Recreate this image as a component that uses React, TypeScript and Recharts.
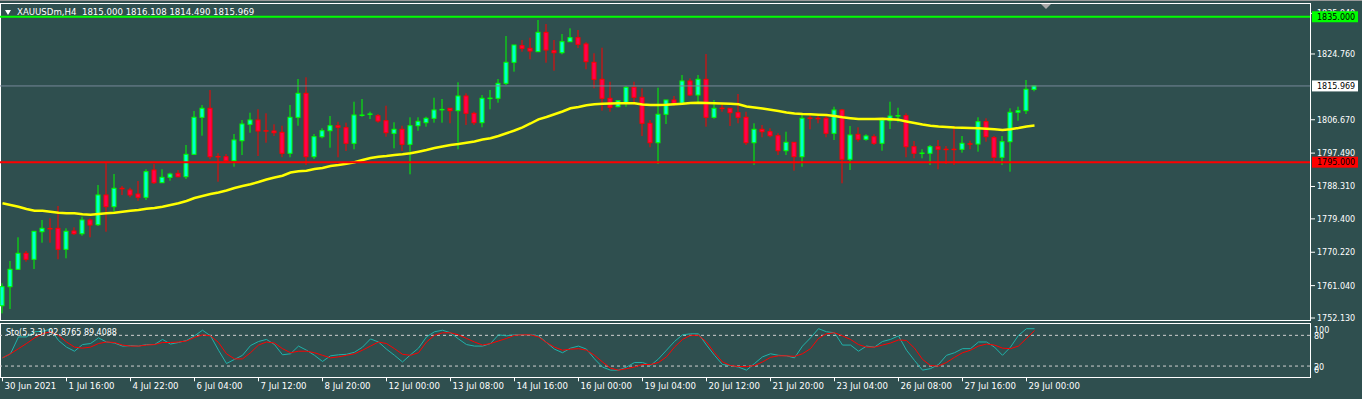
import { ComposedChart, Bar, Line, XAxis, YAxis, ReferenceLine } from 'recharts';

// XAUUSDm H4, 30 Jun - 29 Jul 2021
const timeLabels = [
  '30 Jun 2021', '1 Jul 16:00', '4 Jul 22:00', '6 Jul 04:00', '7 Jul 12:00', '8 Jul 20:00',
  '12 Jul 00:00', '13 Jul 08:00', '14 Jul 16:00', '16 Jul 00:00', '19 Jul 04:00', '20 Jul 12:00',
  '21 Jul 20:00', '23 Jul 04:00', '26 Jul 08:00', '27 Jul 16:00', '29 Jul 00:00',
];

const opens = [
  1755.5, 1760.74, 1765.53, 1769.93, 1768.28, 1775.87, 1776.8, 1776.8, 1771.03, 1776.06,
  1775.32, 1779.09, 1777.8, 1785.97, 1782.75, 1787.9, 1787.34, 1786.24, 1785.33, 1792.84,
  1789.35, 1790.83, 1791.93, 1791.0, 1797.16, 1807.34, 1809.82, 1796.6, 1796.5, 1795.4,
  1800.9, 1805.41, 1806.6, 1803.7, 1803.57, 1803.21, 1797.44, 1807.34, 1813.94, 1796.5,
  1802.0, 1803.65, 1805.03, 1804.48, 1800.19, 1807.8, 1808.1, 1807.78, 1806.41, 1802.94,
  1804.04, 1799.91, 1805.03, 1805.86, 1807.07, 1809.3, 1809.82, 1809.16, 1813.2, 1808.44,
  1805.86, 1812.4, 1812.57, 1816.69, 1822.47, 1827.04, 1826.32, 1825.39, 1830.72, 1825.66,
  1825.11, 1828.14, 1829.24, 1827.51, 1822.47, 1817.79, 1812.57, 1810.26, 1811.19, 1815.59,
  1812.84, 1805.69, 1800.35, 1808.17, 1812.1, 1811.19, 1817.33, 1813.48, 1817.79, 1807.34,
  1809.9, 1809.82, 1808.61, 1807.34, 1800.35, 1804.04, 1803.38, 1802.28, 1798.15, 1800.46,
  1796.5, 1807.2, 1807.1, 1807.07, 1802.94, 1809.35, 1795.79, 1802.66, 1801.29, 1802.0,
  1800.19, 1806.41, 1807.7, 1807.78, 1799.25, 1797.3, 1797.44, 1799.25, 1798.6, 1798.6,
  1798.54, 1800.1, 1799.99, 1806.13, 1801.73, 1796.34, 1800.63, 1808.72, 1809.16, 1815.0,
];

const highs = [
  1761.67, 1767.81, 1774.33, 1770.56, 1776.0, 1779.09, 1779.55, 1782.94, 1776.8, 1777.08,
  1780.0, 1779.55, 1788.72, 1795.13, 1791.74, 1788.44, 1787.97, 1789.82, 1793.04, 1794.49,
  1793.04, 1792.1, 1792.84, 1799.72, 1809.07, 1810.72, 1814.85, 1797.44, 1797.24, 1802.75,
  1806.6, 1808.61, 1809.54, 1808.44, 1805.41, 1805.03, 1810.72, 1817.88, 1818.34, 1802.75,
  1804.31, 1807.7, 1806.13, 1805.86, 1811.63, 1812.38, 1808.88, 1808.25, 1810.53, 1805.97,
  1805.03, 1807.34, 1807.34, 1807.51, 1812.73, 1812.38, 1809.82, 1816.97, 1813.94, 1808.88,
  1813.48, 1814.85, 1817.88, 1829.71, 1827.23, 1828.61, 1829.24, 1834.11, 1833.01, 1828.61,
  1830.26, 1831.82, 1831.36, 1828.0, 1824.95, 1826.49, 1817.13, 1812.1, 1815.95, 1817.13,
  1815.32, 1806.6, 1815.48, 1812.1, 1813.2, 1818.98, 1818.07, 1818.98, 1824.75, 1812.1,
  1810.92, 1809.82, 1813.75, 1808.88, 1805.69, 1805.22, 1804.31, 1802.94, 1803.38, 1800.46,
  1807.97, 1807.97, 1808.25, 1808.25, 1810.26, 1809.62, 1804.95, 1804.59, 1802.66, 1802.66,
  1807.07, 1811.63, 1809.98, 1808.44, 1800.82, 1798.54, 1799.72, 1801.1, 1799.45, 1804.95,
  1802.2, 1800.9, 1807.34, 1807.07, 1802.2, 1802.2, 1809.82, 1810.26, 1817.6, 1816.108,
];

const lows = [
  1753.4, 1754.6, 1765.4, 1767.62, 1765.6, 1772.84, 1772.84, 1768.28, 1768.55, 1774.96,
  1774.77, 1774.33, 1777.44, 1775.87, 1781.37, 1785.97, 1785.33, 1784.4, 1784.59, 1788.99,
  1789.35, 1789.9, 1790.83, 1790.37, 1797.1, 1802.28, 1795.79, 1789.62, 1795.13, 1793.75,
  1796.97, 1803.1, 1796.69, 1800.35, 1802.2, 1796.34, 1796.34, 1805.03, 1794.22, 1795.87,
  1801.56, 1798.98, 1796.34, 1798.07, 1798.54, 1807.51, 1806.87, 1805.86, 1802.0, 1798.81,
  1798.07, 1791.66, 1803.65, 1804.76, 1805.86, 1805.86, 1805.69, 1798.54, 1805.22, 1805.22,
  1804.59, 1809.54, 1811.36, 1816.23, 1819.89, 1825.39, 1823.3, 1825.39, 1822.36, 1820.16,
  1824.67, 1828.14, 1826.39, 1820.55, 1815.32, 1809.16, 1808.88, 1810.09, 1810.26, 1810.72,
  1802.2, 1799.09, 1794.49, 1805.5, 1810.45, 1811.19, 1813.2, 1811.19, 1804.76, 1806.96,
  1808.88, 1804.95, 1805.69, 1799.72, 1794.22, 1801.84, 1801.84, 1796.97, 1796.97, 1792.65,
  1793.75, 1804.04, 1805.69, 1801.84, 1801.1, 1789.18, 1792.84, 1800.63, 1800.9, 1799.72,
  1798.15, 1804.12, 1805.97, 1796.34, 1796.06, 1796.06, 1794.22, 1793.03, 1794.49, 1794.22,
  1797.6, 1798.54, 1797.88, 1800.63, 1794.85, 1794.22, 1792.38, 1806.41, 1808.25, 1814.49,
];

const closes = [
  1760.74, 1765.53, 1769.93, 1768.28, 1775.98, 1776.8, 1776.6, 1771.03, 1775.98, 1775.32,
  1779.09, 1777.71, 1785.97, 1782.75, 1787.81, 1787.6, 1785.97, 1785.33, 1792.38, 1789.35,
  1790.83, 1791.74, 1791.0, 1797.16, 1807.34, 1809.82, 1796.5, 1796.4, 1795.4, 1801.1,
  1805.5, 1806.6, 1803.57, 1803.5, 1803.1, 1797.44, 1807.34, 1813.94, 1796.5, 1802.0,
  1803.65, 1805.03, 1804.59, 1800.19, 1807.97, 1808.0, 1808.3, 1806.32, 1803.1, 1804.04,
  1799.91, 1805.03, 1806.24, 1807.07, 1809.35, 1809.6, 1809.16, 1813.2, 1808.44, 1805.86,
  1812.57, 1812.7, 1816.69, 1822.47, 1827.23, 1826.32, 1825.58, 1830.72, 1825.85, 1825.11,
  1828.14, 1829.24, 1827.42, 1822.64, 1817.79, 1812.57, 1810.09, 1811.91, 1815.59, 1812.84,
  1805.69, 1800.35, 1808.17, 1812.1, 1811.19, 1817.33, 1813.48, 1817.79, 1807.34, 1809.82,
  1809.7, 1808.61, 1807.34, 1800.35, 1804.04, 1803.38, 1802.28, 1798.15, 1800.46, 1796.5,
  1807.07, 1807.0, 1806.9, 1802.94, 1809.35, 1795.79, 1802.47, 1801.29, 1802.2, 1800.19,
  1806.6, 1807.7, 1807.8, 1799.25, 1797.44, 1797.6, 1799.25, 1798.54, 1798.4, 1798.4,
  1800.19, 1799.9, 1806.13, 1802.0, 1796.34, 1800.63, 1808.72, 1809.16, 1815.04, 1815.969,
];

// yellow moving average
const maValues = [
  1783.68, 1783.21, 1782.75, 1782.11, 1781.65, 1781.65, 1781.37, 1781.1, 1780.93, 1780.93,
  1780.66, 1780.55, 1780.74, 1780.93, 1781.1, 1781.37, 1781.65, 1781.84, 1782.2, 1782.39,
  1782.75, 1783.21, 1783.68, 1784.31, 1785.14, 1785.69, 1786.24, 1786.65, 1787.2, 1787.89,
  1788.44, 1788.91, 1789.54, 1790.23, 1790.78, 1791.27, 1792.16, 1792.49, 1792.65, 1793.12,
  1793.39, 1793.94, 1794.22, 1794.58, 1794.96, 1795.59, 1796.14, 1796.5, 1796.69, 1796.97,
  1797.16, 1797.44, 1797.88, 1798.34, 1798.9, 1799.31, 1799.72, 1800.0, 1800.33, 1800.68,
  1801.23, 1801.56, 1802.2, 1802.94, 1803.71, 1804.59, 1805.64, 1806.79, 1807.42, 1808.17,
  1808.94, 1809.82, 1810.17, 1810.64, 1810.92, 1811.08, 1811.14, 1811.19, 1811.19, 1811.19,
  1810.86, 1810.72, 1810.72, 1810.78, 1810.94, 1811.08, 1811.27, 1811.36, 1811.27, 1811.19,
  1811.14, 1811.05, 1810.92, 1810.31, 1810.04, 1809.76, 1809.43, 1809.07, 1808.66, 1808.39,
  1808.25, 1808.17, 1808.06, 1807.97, 1807.7, 1807.34, 1807.09, 1806.87, 1806.87, 1806.87,
  1806.96, 1806.82, 1806.65, 1806.19, 1805.77, 1805.36, 1805.03, 1804.81, 1804.67, 1804.53,
  1804.45, 1804.4, 1804.31, 1804.2, 1804.04, 1803.85, 1804.04, 1804.4, 1804.81, 1805.08,
];

// Sto(5,3,3)
const stochMain = [
  36, 44, 77, 77, 87, 88, 92, 70, 57, 49, 62, 64, 75, 67, 65, 59, 60, 59, 62, 62,
  72, 63, 66, 70, 79, 90, 79, 51, 25, 33, 41, 60, 68, 72, 62, 42, 44, 59, 51, 41,
  29, 40, 42, 43, 47, 57, 73, 67, 53, 41, 28, 42, 55, 77, 87, 90, 85, 73, 62, 59,
  59, 64, 81, 79, 81, 81, 81, 79, 66, 53, 46, 55, 59, 53, 34, 18, 12, 12, 18, 27,
  27, 21, 34, 51, 68, 81, 83, 83, 61, 41, 23, 21, 18, 12, 25, 38, 44, 41, 40, 36,
  59, 75, 93, 87, 85, 61, 61, 49, 59, 57, 68, 72, 79, 51, 31, 12, 15, 23, 41, 46,
  54, 54, 67, 67, 57, 41, 57, 80, 93, 92.8765,
];

const stochSignal = [
  36, 44, 54, 64, 75, 83, 87, 80, 67, 57, 55, 57, 64, 67, 66, 61, 59, 59, 61, 62,
  66, 66, 67, 69, 76, 81, 79, 66, 44, 34, 34, 46, 61, 67, 65, 54, 46, 49, 49, 46,
  41, 36, 38, 41, 44, 51, 59, 67, 64, 54, 43, 41, 46, 67, 80, 85, 85, 81, 74, 67,
  61, 64, 69, 74, 80, 81, 81, 77, 66, 57, 51, 53, 54, 51, 41, 28, 16, 12, 15, 18,
  23, 23, 27, 38, 57, 72, 80, 80, 67, 46, 28, 21, 19, 19, 21, 28, 37, 40, 40, 39,
  44, 54, 74, 83, 85, 79, 72, 62, 57, 57, 61, 65, 71, 70, 55, 33, 21, 20, 27, 37,
  46, 51, 59, 63, 61, 55, 54, 59, 74, 89.4088,
];

const priceTicks = [1752.13, 1761.04, 1770.22, 1779.4, 1788.31, 1797.49, 1806.67, 1824.76, 1835.94];
const stochTicks = [0, 20, 80, 100];

const bars = opens.map((o, i) => ({
  idx: i,
  open: o,
  high: highs[i],
  low: lows[i],
  close: closes[i],
  range: [lows[i], highs[i]],
  ma: maValues[i],
  k: stochMain[i],
  d: stochSignal[i],
}));
const timeTicks = timeLabels.map((_, i) => i * 8);

const X_DOMAIN: [number, number] = [-0.3125, 163.4375];
const Y_DOMAIN: [number, number] = [1751.58, 1838.51];
const FONT = '"DejaVu Sans", sans-serif';
const BG = '#2F4F4F';

function Candle(props: any) {
  const { x, y, width, height, payload } = props;
  if (!payload || height == null || isNaN(y)) return null;
  const { open, close, high, low } = payload;
  const cx = x + width / 2;
  const py = (p: number) => y + ((high - p) / (high - low)) * height;
  const up = close >= open;
  const edge = up ? '#00FF00' : '#FF0000';
  const fill = up ? '#00FFD0' : '#FF0050';
  const top = py(Math.max(open, close));
  const bot = py(Math.min(open, close));
  const h = bot - top;
  return (
    <g>
      <line x1={cx} x2={cx} y1={y} y2={y + height} stroke={edge} strokeWidth={1} />
      {h < 1.5 ? (
        <line x1={cx - 2.5} x2={cx + 2.5} y1={(top + bot) / 2} y2={(top + bot) / 2} stroke={edge} strokeWidth={1.5} />
      ) : (
        <rect x={cx - 2} y={top} width={4} height={h} fill={fill} stroke={edge} strokeWidth={1} />
      )}
    </g>
  );
}

function PriceTick(props: any) {
  const { x, y, payload } = props;
  return (
    <g>
      <line x1={x + 1} x2={x + 5} y1={y} y2={y} stroke="#fff" />
      <text x={x + 7} y={y + 3} fill="#fff" fontSize={8} fontFamily={FONT}>
        {Number(payload.value).toFixed(3)}
      </text>
    </g>
  );
}

function PriceTag(props: any) {
  const { viewBox, text, bg, color } = props;
  if (!viewBox) return null;
  const ly = viewBox.y;
  const lx = viewBox.x + viewBox.width;
  return (
    <g>
      <rect x={lx + 2} y={ly - 5.5} width={46} height={11} fill={bg} />
      <text x={lx + 7} y={ly + 3} fill={color} fontSize={8} fontFamily={FONT}>
        {text}
      </text>
    </g>
  );
}

function StochTick(props: any) {
  const { x, y, payload } = props;
  const v = payload.value;
  const off = v === 100 ? 8 : v === 0 ? -3 : 3.5;
  return (
    <text x={x + 4} y={y + off} fill="#fff" fontSize={8} fontFamily={FONT}>
      {v}
    </text>
  );
}

function TimeTick(props: any) {
  const { x, y, payload } = props;
  const label = timeLabels[Math.round(payload.value / 8)];
  return (
    <g>
      <line x1={x} x2={x} y1={y + 1} y2={y + 5} stroke="#fff" />
      <text x={x + 2} y={y + 13} fill="#fff" fontSize={8.6} fontFamily={FONT}>
        {label}
      </text>
    </g>
  );
}

export default function App() {
  return (
    <div style={{ position: 'relative', width: 1362, height: 399, background: BG, overflow: 'hidden' }}>
      <style>{'body{margin:0;}'}</style>
      <div style={{ position: 'absolute', left: 0, top: 0, width: 1362, height: 1, background: '#9a9a9a' }} />
      <div style={{ position: 'absolute', left: 0, top: 3, width: 1311, height: 318, border: '1px solid #fff', boxSizing: 'border-box' }} />
      <div style={{ position: 'absolute', left: 0, top: 323, width: 1311, height: 55, border: '1px solid #fff', boxSizing: 'border-box' }} />

      {/* price panel: candles, MA, price scale */}
      <div style={{ position: 'absolute', left: 0, top: 0 }}>
        <ComposedChart width={1362} height={322} data={bars} margin={{ top: 4, right: 0, bottom: 2, left: 0 }}>
          <XAxis dataKey="idx" type="number" domain={X_DOMAIN} allowDataOverflow hide />
          <YAxis
            orientation="right"
            width={52}
            domain={Y_DOMAIN}
            allowDataOverflow
            ticks={priceTicks}
            interval={0}
            axisLine={false}
            tickLine={false}
            tickSize={0}
            tickMargin={0}
            tick={<PriceTick />}
          />
          <Bar dataKey="range" barSize={5} shape={<Candle />} isAnimationActive={false} />
          <Line dataKey="ma" type="linear" stroke="#FFFF00" strokeWidth={2.5} dot={false} activeDot={false} isAnimationActive={false} />
        </ComposedChart>
      </div>

      {/* horizontal lines and their price tags, above the scale */}
      <div style={{ position: 'absolute', left: 0, top: 0 }}>
        <ComposedChart width={1362} height={322} data={bars} margin={{ top: 4, right: 0, bottom: 2, left: 0 }}>
          <XAxis dataKey="idx" type="number" domain={X_DOMAIN} allowDataOverflow hide />
          <YAxis orientation="right" width={52} domain={Y_DOMAIN} allowDataOverflow axisLine={false} tickLine={false} tick={false} />
          <ReferenceLine y={1815.969} stroke="#778899" strokeWidth={1} label={<PriceTag text="1815.969" bg="#ffffff" color="#000" />} />
          <ReferenceLine y={1835} stroke="#00FF00" strokeWidth={2} label={<PriceTag text="1835.000" bg="#00FF00" color="#000" />} />
          <ReferenceLine y={1795} stroke="#FF0000" strokeWidth={2} label={<PriceTag text="1795.000" bg="#FF0000" color="#000" />} />
        </ComposedChart>
      </div>

      {/* stochastic sub-window with time scale */}
      <div style={{ position: 'absolute', left: 0, top: 321 }}>
        <ComposedChart width={1362} height={78} data={bars} margin={{ top: 4.1, right: 0, bottom: 0, left: 0 }}>
          <XAxis
            dataKey="idx"
            type="number"
            domain={X_DOMAIN}
            allowDataOverflow
            ticks={timeTicks}
            interval={0}
            height={22.7}
            axisLine={false}
            tickLine={false}
            tickSize={0}
            tickMargin={0}
            tick={<TimeTick />}
          />
          <YAxis
            orientation="right"
            width={52}
            domain={[0, 100]}
            ticks={stochTicks}
            interval={0}
            axisLine={false}
            tickLine={false}
            tickSize={0}
            tickMargin={0}
            tick={<StochTick />}
          />
          <ReferenceLine y={80} stroke="#D0D0D0" strokeDasharray="3 3" />
          <ReferenceLine y={20} stroke="#D0D0D0" strokeDasharray="3 3" />
          <Line dataKey="k" type="linear" stroke="#20B2AA" strokeWidth={1} dot={false} activeDot={false} isAnimationActive={false} />
          <Line dataKey="d" type="linear" stroke="#FF0000" strokeWidth={1} dot={false} activeDot={false} isAnimationActive={false} />
        </ComposedChart>
      </div>

      <div style={{ position: 'absolute', left: 5, top: 10, width: 0, height: 0, borderLeft: '3.5px solid transparent', borderRight: '3.5px solid transparent', borderTop: '5px solid #fff' }} />
      <div style={{ position: 'absolute', left: 17, top: 6, lineHeight: '12px', fontSize: 8.6, fontFamily: FONT, color: '#fff', whiteSpace: 'pre' }}>
        {'XAUUSDm,H4  1815.000 1816.108 1814.490 1815.969'}
      </div>
      <div style={{ position: 'absolute', left: 1041, top: 4, width: 0, height: 0, borderLeft: '5px solid transparent', borderRight: '5px solid transparent', borderTop: '5px solid #a9a9a9' }} />
      <div style={{ position: 'absolute', left: 6, top: 327, lineHeight: '12px', fontSize: 8, fontFamily: FONT, color: '#fff', whiteSpace: 'pre' }}>
        {'Sto(5,3,3) 92.8765 89.4088'}
      </div>
    </div>
  );
}
